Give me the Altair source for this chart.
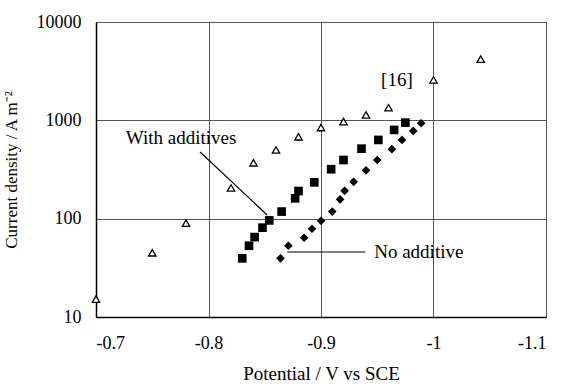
import altair as alt
import pandas as pd

# Reference data [16] (open triangles)
ref_potential = [-0.700, -0.750, -0.780, -0.820, -0.840, -0.860, -0.880, -0.900,
                 -0.920, -0.940, -0.960, -1.000, -1.042]
ref_current = [15.2, 45, 90, 205, 370, 500, 680, 845, 970, 1135, 1345, 2575, 4190]

# With additives (filled squares)
add_potential = [-0.830, -0.836, -0.841, -0.848, -0.854, -0.865, -0.877, -0.880,
                 -0.894, -0.909, -0.920, -0.936, -0.951, -0.965, -0.975]
add_current = [39.5, 53, 65, 81, 96, 118, 161, 191, 234, 318, 395, 515, 632, 799, 948]

# No additive (filled diamonds)
none_potential = [-0.864, -0.871, -0.885, -0.892, -0.900, -0.910, -0.917, -0.921,
                  -0.929, -0.940, -0.950, -0.963, -0.972, -0.982, -0.989]
none_current = [39.5, 53, 64, 79, 95, 118, 157, 192, 237, 310, 395, 509, 632, 780, 934]

x_ticks = [-0.7, -0.8, -0.9, -1.0, -1.1]
y_ticks = [10, 100, 1000, 10000]

FONT = "Liberation Serif"

ref_df = pd.DataFrame({"E": ref_potential, "i": ref_current})
add_df = pd.DataFrame({"E": add_potential, "i": add_current})
none_df = pd.DataFrame({"E": none_potential, "i": none_current})

x_enc = alt.X(
    "E:Q",
    scale=alt.Scale(domain=[-1.1, -0.7], reverse=True, nice=False, zero=False),
    axis=alt.Axis(
        values=x_ticks,
        labelExpr="'' + datum.value",
        labelFont=FONT,
        labelFontSize=18,
        title="Potential / V vs SCE",
        titleFont=FONT,
        titleFontSize=19,
        ticks=False,
        labelPadding=17,
        titlePadding=12,
        grid=True,
        gridColor="#555",
        gridWidth=1,
        domainColor="#000",
        domainWidth=1.5,
    ),
)
y_enc = alt.Y(
    "i:Q",
    scale=alt.Scale(type="log", domain=[10, 10000], nice=False),
    axis=alt.Axis(
        values=y_ticks,
        labelExpr="'' + datum.value",
        labelFont=FONT,
        labelFontSize=18,
        title="Current density / A m⁻²",
        titleFont=FONT,
        titleFontSize=17,
        ticks=False,
        labelPadding=15,
        titlePadding=16,
        grid=True,
        gridColor="#555",
        gridWidth=1,
        domainColor="#000",
        domainWidth=1.5,
    ),
)

ref_pts = alt.Chart(ref_df).mark_point(
    shape="triangle-up", filled=True, fill="white", stroke="black",
    strokeWidth=1.3, size=55, opacity=1
).encode(x=x_enc, y=y_enc)

add_pts = alt.Chart(add_df).mark_point(
    shape="square", filled=True, color="black", size=75, opacity=1
).encode(x="E:Q", y="i:Q")

none_pts = alt.Chart(none_df).mark_point(
    shape="diamond", filled=True, color="black", size=75, opacity=1
).encode(x="E:Q", y="i:Q")

# Leader lines for the series labels
leaders_df = pd.DataFrame({
    "E": [-0.7925, -0.8699],
    "E2": [-0.8521, -0.9393],
    "i": [477, 45.8],
    "i2": [109, 45.8],
})
leaders = alt.Chart(leaders_df).mark_rule(color="black", strokeWidth=1.2).encode(
    x="E:Q", x2="E2:Q", y="i:Q", y2="i2:Q"
)

labels_df = pd.DataFrame({
    "E": [-0.7756, -0.9473, -0.9675],
    "i": [662, 45.8, 2576],
    "text": ["With additives", "No additive", "[16]"],
    "align": ["center", "left", "center"],
})
label_center = alt.Chart(labels_df[labels_df["align"] == "center"]).mark_text(
    font=FONT, fontSize=19, color="black", align="center", baseline="middle"
).encode(x="E:Q", y="i:Q", text="text:N")
label_left = alt.Chart(labels_df[labels_df["align"] == "left"]).mark_text(
    font=FONT, fontSize=19, color="black", align="left", baseline="middle"
).encode(x="E:Q", y="i:Q", text="text:N")

chart = alt.layer(ref_pts, add_pts, none_pts, leaders, label_center, label_left).properties(
    width=450,
    height=295,
    background="white",
    padding={"left": 96, "top": 22, "right": 17, "bottom": 71},
    autosize=alt.AutoSizeParams(type="none"),
).configure_view(
    stroke="#333", strokeWidth=1
).configure_axis(
    labelFont=FONT, titleFont=FONT,
    labelColor="black", titleColor="black", titleFontWeight="normal",
)

chart.save("out.html", embed_options={"renderer": "svg", "actions": False})
